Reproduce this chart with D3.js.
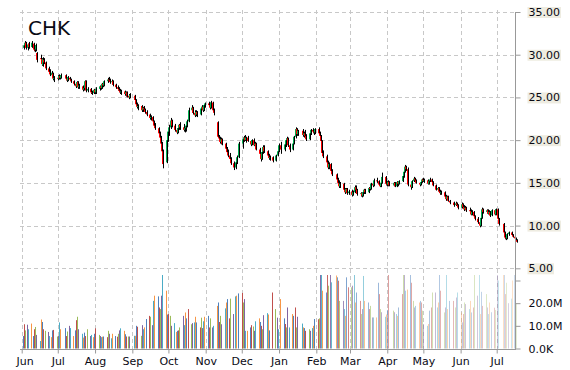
<!DOCTYPE html>
<html>
<head>
<meta charset="utf-8">
<title>CHK</title>
<script src="https://cdn.jsdelivr.net/npm/d3@7"></script>
<style>
    body { margin: 0; background: #fff; }
    #chart-area { width: 570px; height: 370px; }
    text { font-family: "DejaVu Sans", Verdana, sans-serif; }
</style>
</head>
<body>
<div id="chart-area"></div>
<script>

const ticker = "CHK";

// trading days run from firstDay to lastDay, weekends and these market holidays skipped
const firstDay = "2014-06-02";
const lastDay = "2015-07-17";
const holidays = ["2014-07-04", "2014-09-01", "2014-11-27", "2014-12-25", "2015-01-01",
    "2015-01-19", "2015-02-16", "2015-04-03", "2015-05-25", "2015-07-03"];

const openPrices = [
    // Jun
    30.8,31.1,31.4,30.8,31.3,30.9,31.3,30.6,30.6,30.2,29.6,29.5,28.8,29.4,29.1,28.4,28.0,27.6,27.8,27.2,27.3,
    // Jul
    27.2,27.5,27.3,27.6,27.2,27.0,27.3,27.1,26.9,26.6,26.3,26.8,26.2,26.3,25.9,26.1,26.9,25.8,26.0,25.6,25.5,25.9,
    // Aug
    25.6,26.0,26.3,26.1,26.6,26.4,26.9,27.1,27.0,26.8,26.9,26.5,26.2,26.0,25.8,25.6,25.7,25.4,25.6,25.2,25.0,
    // Sep
    25.2,24.7,24.2,23.9,24.0,23.5,23.8,23.6,23.3,23.0,22.6,22.7,22.2,21.7,21.4,20.8,20.3,19.6,18.7,17.4,20.0,
    // Oct
    21.0,21.5,22.3,21.7,21.2,20.9,21.4,21.8,21.5,21.2,21.4,21.7,22.2,23.5,23.8,23.2,22.9,23.3,23.0,23.7,23.9,23.5,24.1,
    // Nov
    24.3,24.1,23.8,24.4,23.5,22.1,20.4,20.2,19.8,20.1,19.6,19.0,18.6,18.2,17.8,17.3,16.8,17.4,18.0,
    // Dec
    19.6,20.1,20.3,20.0,20.3,19.9,19.5,20.0,19.4,19.6,18.9,18.4,17.8,18.6,19.2,18.7,18.2,17.9,18.0,17.6,18.2,18.7,
    // Jan
    19.4,18.9,19.5,20.0,20.2,19.4,18.9,19.6,20.4,21.3,20.7,21.1,20.6,20.8,20.5,20.1,20.8,21.2,21.0,20.9,
    // Feb
    21.3,20.8,20.5,19.9,18.5,18.1,17.4,16.8,17.2,16.4,16.0,15.4,15.0,14.6,14.9,14.2,13.9,14.3,13.8,
    // Mar
    14.0,13.6,13.9,14.5,14.2,13.7,13.8,13.5,13.9,14.2,13.9,14.4,14.3,14.9,14.7,15.3,15.2,14.8,14.6,15.0,15.7,14.9,
    // Apr
    14.8,15.1,14.7,15.0,14.6,15.1,14.9,15.2,15.8,16.3,16.9,16.6,14.8,14.5,15.2,15.5,15.3,15.0,14.8,15.1,15.4,
    // May
    15.2,15.3,14.9,15.2,15.4,15.1,14.7,14.2,14.4,14.0,13.8,13.9,13.4,13.1,13.4,12.9,12.7,12.4,12.6,12.4,
    // Jun
    12.1,12.5,12.2,11.9,12.1,11.8,11.7,11.3,11.6,11.1,10.8,10.4,10.0,10.9,11.9,11.6,11.8,11.4,11.6,11.2,11.8,11.3,
    // Jul
    11.9,10.8,10.2,9.2,8.6,8.5,9.0,9.2,8.9,8.7,8.5,8.3
];

const highPrices = [
    31.3,31.6,31.5,31.3,31.5,31.6,31.4,31.1,31.3,30.3,30.0,29.6,29.7,29.6,29.2,28.6,28.3,28.1,27.9,27.5,27.6,
    27.7,27.6,27.8,27.7,27.3,27.5,27.4,27.2,27.0,26.8,26.9,26.9,26.6,26.4,26.3,27.0,27.0,26.2,26.1,25.8,26.0,26.0,
    26.2,26.4,26.5,26.7,26.8,27.0,27.3,27.4,27.2,27.1,27.0,26.6,26.4,26.2,26.0,25.9,25.8,25.7,25.7,25.4,25.5,
    25.3,24.8,24.4,24.2,24.1,23.9,24.0,23.7,23.5,23.1,22.9,22.8,22.3,22.0,21.5,21.0,20.5,19.8,18.9,20.2,21.4,
    21.8,22.6,22.4,21.9,21.4,21.5,21.9,22.1,21.9,21.6,21.8,22.4,23.8,24.1,23.9,23.5,23.5,23.4,23.9,24.1,24.0,24.2,24.4,
    24.5,24.4,24.6,24.5,23.7,22.2,20.6,20.4,20.3,20.2,19.7,19.2,18.9,18.5,18.0,17.5,17.6,18.2,19.8,
    20.3,20.5,20.6,20.4,20.5,20.0,20.1,20.2,19.8,19.7,19.1,18.6,18.7,19.4,19.4,18.8,18.4,18.2,18.1,18.3,18.9,19.6,
    19.8,19.6,20.2,20.4,20.3,19.6,19.7,20.5,21.5,21.4,21.2,21.3,21.0,21.2,20.7,20.9,21.3,21.4,21.3,21.4,
    21.5,21.0,20.6,20.0,18.8,18.3,17.6,17.4,17.3,16.6,16.1,15.6,15.3,15.1,15.0,14.4,14.4,14.4,14.2,
    14.2,14.1,14.7,14.7,14.3,13.9,13.9,14.0,14.3,14.3,14.5,14.6,15.0,15.1,15.5,15.6,15.3,15.0,15.2,16.2,15.8,15.2,
    15.3,15.2,15.1,15.1,15.2,15.2,15.3,16.0,16.4,17.1,17.0,16.8,15.0,15.3,15.7,15.6,15.4,15.1,15.2,15.5,15.6,
    15.5,15.4,15.3,15.6,15.5,15.2,14.8,14.5,14.5,14.2,14.1,14.0,13.6,13.5,13.5,13.0,12.8,12.8,12.7,12.5,
    12.7,12.6,12.4,12.3,12.2,12.1,11.9,11.8,11.7,11.2,11.0,10.6,11.0,12.1,12.0,11.9,11.9,11.8,11.7,11.9,11.9,12.0,
    12.0,10.9,10.3,9.3,8.9,9.1,9.3,9.3,9.0,8.8,8.6,8.4
];

const lowPrices = [
    30.6,30.9,30.6,30.5,30.7,30.8,30.4,30.3,30.4,29.1,29.2,28.7,28.6,28.9,28.2,27.8,27.5,27.4,27.0,26.8,27.0,
    27.1,27.1,27.2,27.0,26.8,26.9,26.9,26.7,26.4,26.1,26.2,26.0,26.0,25.7,25.8,26.0,25.6,25.6,25.4,25.3,25.4,25.4,
    25.4,25.8,25.9,26.0,26.2,26.3,26.7,26.8,26.6,26.5,26.3,26.0,25.8,25.6,25.4,25.3,25.2,25.1,25.0,24.8,24.9,
    24.5,24.0,23.7,23.5,23.3,23.3,23.4,23.1,22.8,22.4,22.3,22.0,21.5,21.2,20.5,20.0,19.4,18.5,16.7,17.3,19.8,
    20.5,21.3,21.5,21.0,20.7,20.8,21.2,21.2,21.0,20.9,21.0,21.5,22.1,23.2,23.0,22.7,22.8,22.7,22.9,23.5,23.3,23.4,23.8,
    23.9,23.6,23.7,23.3,22.9,20.3,19.9,19.6,19.5,19.4,18.8,18.4,18.0,17.6,17.1,16.5,16.6,17.2,17.9,
    19.0,19.8,19.9,19.7,19.8,19.3,19.4,19.3,19.1,18.8,18.2,17.5,17.7,18.4,18.5,18.0,17.7,17.6,17.4,17.5,18.1,18.6,
    18.4,18.7,19.2,19.6,19.2,18.6,18.8,19.5,20.2,20.5,20.5,20.4,20.3,20.4,19.9,20.0,20.6,20.8,20.6,20.7,
    20.6,20.2,19.7,18.2,17.9,17.2,16.6,16.6,16.2,15.8,15.2,14.8,14.4,14.4,14.0,13.7,13.8,13.6,13.6,
    13.4,13.5,13.8,14.0,13.5,13.4,13.3,13.4,13.7,13.7,13.8,14.1,14.2,14.5,14.6,15.0,14.7,14.5,14.5,14.9,14.7,14.6,
    14.6,14.6,14.6,14.5,14.5,14.6,14.8,15.1,15.6,16.2,16.4,14.6,14.2,14.4,15.1,15.1,14.9,14.6,14.7,15.0,15.1,
    15.0,14.8,14.8,15.1,15.0,14.6,14.1,14.0,13.9,13.6,13.6,13.3,12.9,13.0,12.8,12.5,12.2,12.3,12.2,11.9,
    12.0,12.0,11.7,11.8,11.6,11.6,11.2,11.2,11.0,10.6,10.2,9.8,9.9,10.8,11.4,11.4,11.3,11.2,11.0,11.1,11.2,11.2,
    10.6,10.0,9.0,8.4,8.3,8.4,8.8,8.8,8.6,8.4,8.2,8.0
];

const closePrices = [
    31.1,31.4,30.8,31.2,30.9,31.4,30.6,30.5,31.1,29.4,29.5,28.9,29.5,29.1,28.4,28.0,27.7,27.9,27.2,27.3,27.2,
    27.5,27.3,27.6,27.2,27.0,27.4,27.1,26.9,26.6,26.3,26.8,26.2,26.4,25.9,26.1,26.9,25.8,26.0,25.6,25.5,25.9,25.6,
    26.0,26.3,26.1,26.6,26.4,26.9,27.1,27.0,26.8,26.9,26.5,26.2,26.0,25.8,25.6,25.7,25.4,25.6,25.2,25.0,25.3,
    24.7,24.2,23.9,24.0,23.5,23.8,23.6,23.3,23.0,22.6,22.7,22.2,21.7,21.4,20.8,20.3,19.6,18.7,17.2,20.0,21.0,
    21.5,22.3,21.7,21.2,20.9,21.4,21.8,21.5,21.2,21.4,21.7,22.2,23.5,23.8,23.2,22.9,23.3,23.0,23.7,23.9,23.5,24.1,24.3,
    24.1,23.8,24.4,23.5,23.2,20.4,20.2,19.8,20.1,19.6,19.0,18.6,18.2,17.8,17.3,16.8,17.4,18.0,19.6,
    20.1,20.3,20.0,20.3,19.9,19.5,20.0,19.4,19.6,18.9,18.4,17.8,18.6,19.2,18.7,18.2,17.9,18.0,17.6,18.2,18.7,19.4,
    18.9,19.5,20.0,20.2,19.4,18.9,19.6,20.4,21.3,20.7,21.1,20.6,20.8,20.5,20.1,20.8,21.2,21.0,20.9,21.3,
    20.8,20.5,19.9,18.5,18.1,17.4,16.8,17.2,16.4,16.0,15.4,15.0,14.6,14.9,14.2,13.9,14.3,13.8,14.0,
    13.6,13.9,14.5,14.2,13.7,13.8,13.5,13.9,14.2,13.9,14.4,14.3,14.9,14.7,15.3,15.2,14.8,14.6,15.0,15.7,14.9,14.8,
    15.1,14.7,15.0,14.6,15.1,14.9,15.2,15.8,16.3,16.9,16.6,14.8,14.5,15.2,15.5,15.3,15.0,14.8,15.1,15.4,15.2,
    15.3,14.9,15.2,15.4,15.1,14.7,14.2,14.4,14.0,13.8,13.9,13.4,13.1,13.4,12.9,12.7,12.4,12.6,12.4,12.1,
    12.5,12.2,11.9,12.1,11.8,11.7,11.3,11.6,11.1,10.8,10.4,10.0,10.9,11.9,11.6,11.8,11.4,11.6,11.2,11.8,11.3,11.9,
    10.8,10.2,9.2,8.6,8.5,9.0,9.2,8.9,8.7,8.5,8.3,8.1
];

// volume in millions of shares
const volumes = [
    5.5,10.7,8,10.5,8.5,11,5.5,8.5,9.5,6,3.3,12.8,11.7,8.5,7.8,7.3,5.5,5,8,8.2,5.3,
    5.5,11.5,8.5,9,5.5,7.5,10,9,5.5,8,12.5,14,8.5,6.5,4.8,7,5.5,8.5,5.5,6,5,6.5,
    8.9,6,5.5,5,5.2,5.3,5,7.8,6.5,4.5,6.5,5.5,5.2,6.5,8,8.9,7.8,6.3,5.3,5.3,5.3,
    5.6,5.6,10,9.6,5.6,10.3,8.5,9.3,13,14.4,14,10.3,21,23.3,23,18.1,17.4,23.3,34,25.5,15,
    15.2,14.4,10,11.2,7.3,7.8,8,9.3,14.4,10.3,15.9,13.3,17.4,10.7,11.2,11.5,14,11.5,9.3,13.6,9,12,14,
    14.4,9.3,13.3,9.3,10,18.8,20.3,11.7,14.4,10.7,17.7,20.3,21.8,13.3,22,15.2,23,23.3,24.3,
    24.5,20.3,21.8,7.8,7.8,9.3,10.3,9.7,7.8,12,13.3,11.7,10,8.5,14.7,15.6,15,8,24.7,17.4,13.6,8.5,
    21.8,13.3,10.8,9.3,18.1,9.3,15.2,14.4,18.1,9.3,14,11,9.3,9,7.8,8.5,7.8,9,10,13,
    12.9,13.3,33,33,25.5,24.7,33,27.7,33,29.2,32.2,31.4,29.9,21,21,17.4,14.4,31.4,27,
    27,27.7,33,20.3,24.7,21,15.2,17.4,32,21,20.3,17.4,18.8,13.7,13.7,13.7,29,24,17.4,16,14,15,
    17,33,16.7,16,15.2,14.4,18.1,24,33,33,25.5,26,33,29,21,18.1,18.8,20.3,21,20.3,16.7,
    10.8,10,10.8,16.7,18.1,24.7,24.7,18.1,20.3,33,25.5,15.9,18.1,33,17.4,21,21,18.1,22.5,24.7,
    15.9,11.5,15.2,20.3,19.6,17.4,21,15.9,18.1,33,23.3,33,15.2,25,18.8,24,18.1,15.2,20.3,16,18,17,
    33,30,33,33,24,29,20,22,30,33,25,20
];

const priceTicks = [5, 10, 15, 20, 25, 30, 35];
const volumeTicks = [0, 10, 20, 30];
const volumeColors = ["#4F81BD", "#C0504D", "#9BBB59", "#8064A2", "#4BACC6", "#F79646"];


class CandleChart {

    constructor(parentElement) {
        this.parentElement = parentElement;
        this.initVis();
    }

    initVis() {
        let vis = this;

        vis.width = 570;
        vis.height = 370;
        vis.left = 20;
        vis.right = 515;
        vis.top = 12;
        vis.bottom = 349;

        vis.svg = d3.select("#" + vis.parentElement).append("svg")
            .attr("width", vis.width)
            .attr("height", vis.height);

        // x: one scale for calendar time, months at fixed spacing
        vis.x = d3.scaleUtc()
            .domain([new Date(Date.UTC(2014, 5, 1)), new Date(Date.UTC(2015, 6, 1))])
            .range([21.7, 496.7]);

        vis.yPrice = d3.scaleLinear().domain([5, 35]).range([268.3, 12]);
        vis.yVol = d3.scaleLinear().domain([0, 30]).range([348.5, 280.5]);
        vis.volTop = 275;

        vis.gridGroup = vis.svg.append("g").attr("class", "grid");
        vis.volGroup = vis.svg.append("g").attr("class", "volume");
        vis.candleGroup = vis.svg.append("g").attr("class", "candles");
        vis.axisGroup = vis.svg.append("g").attr("class", "axes");

        vis.svg.append("text")
            .attr("x", 28)
            .attr("y", 35)
            .attr("font-size", 20)
            .attr("fill", "#0a0a14")
            .text(ticker);

        vis.wrangleData();
    }

    wrangleData() {
        let vis = this;

        let fmt = d3.utcFormat("%Y-%m-%d");
        let start = d3.utcParse("%Y-%m-%d")(firstDay);
        let end = d3.utcDay.offset(d3.utcParse("%Y-%m-%d")(lastDay), 1);
        let days = d3.utcDay.range(start, end)
            .filter(d => d.getUTCDay() % 6 !== 0 && !holidays.includes(fmt(d)));

        if (days.length !== closePrices.length) console.log("day count mismatch", days.length, closePrices.length);

        vis.displayData = days.map((d, i) => ({
            date: d,
            open: openPrices[i],
            high: highPrices[i],
            low: lowPrices[i],
            close: closePrices[i],
            volume: volumes[i],
            idx: i
        }));

        vis.fadeDates = [new Date(Date.UTC(2015, 0, 28)), new Date(Date.UTC(2015, 2, 10)), days[days.length - 1]];

        vis.updateVis();
    }

    updateVis() {
        let vis = this;

        let months = d3.utcMonth.range(new Date(Date.UTC(2014, 5, 1)), new Date(Date.UTC(2015, 6, 2)));

        // dashed grid
        vis.gridGroup.selectAll(".hgrid")
            .data(priceTicks)
            .enter()
            .append("line")
            .attr("class", "hgrid")
            .attr("x1", vis.left)
            .attr("x2", vis.right)
            .attr("y1", d => Math.round(vis.yPrice(d)) + 0.5)
            .attr("y2", d => Math.round(vis.yPrice(d)) + 0.5)
            .attr("stroke", "#c8c8c8")
            .attr("stroke-dasharray", "4,3");

        vis.gridGroup.selectAll(".vgrid")
            .data(months)
            .enter()
            .append("line")
            .attr("class", "vgrid")
            .attr("x1", d => Math.round(vis.x(d)) + 0.5)
            .attr("x2", d => Math.round(vis.x(d)) + 0.5)
            .attr("y1", 10)
            .attr("y2", vis.bottom)
            .attr("stroke", "#c8c8c8")
            .attr("stroke-dasharray", "4,3");

        // volume bars, colours cycle, later bars fade out
        let fade = d3.scaleUtc().domain(vis.fadeDates).range([1, 0.6, 0.28]).clamp(true);

        vis.volGroup.selectAll("rect")
            .data(vis.displayData)
            .enter()
            .append("rect")
            .attr("x", d => Math.round(vis.x(d.date)))
            .attr("width", 1)
            .attr("y", d => Math.max(vis.volTop, vis.yVol(d.volume)))
            .attr("height", d => vis.yVol(0) - Math.max(vis.volTop, vis.yVol(d.volume)))
            .attr("fill", d => volumeColors[d.idx % volumeColors.length])
            .attr("fill-opacity", d => fade(d.date));

        // candles: coloured body with a black wick beside it
        let candles = vis.candleGroup.selectAll("g")
            .data(vis.displayData)
            .enter()
            .append("g");

        candles.append("line")
            .attr("x1", d => Math.round(vis.x(d.date)) + 1.5)
            .attr("x2", d => Math.round(vis.x(d.date)) + 1.5)
            .attr("y1", d => vis.yPrice(d.high))
            .attr("y2", d => vis.yPrice(d.low))
            .attr("stroke", "#000")
            .attr("stroke-width", 1);

        candles.append("rect")
            .attr("x", d => Math.round(vis.x(d.date)))
            .attr("width", 1)
            .attr("y", d => vis.yPrice(Math.max(d.open, d.close)))
            .attr("height", d => Math.max(1, Math.abs(vis.yPrice(d.open) - vis.yPrice(d.close))))
            .attr("fill", d => d.close >= d.open ? "#00B050" : "#FF0000");

        // axis lines
        vis.axisGroup.append("line")
            .attr("x1", vis.right + 0.5).attr("x2", vis.right + 0.5)
            .attr("y1", vis.top).attr("y2", vis.bottom + 0.5)
            .attr("stroke", "#999");
        vis.axisGroup.append("line")
            .attr("x1", vis.left).attr("x2", vis.right + 1)
            .attr("y1", vis.bottom + 0.5).attr("y2", vis.bottom + 0.5)
            .attr("stroke", "#999");

        // price axis
        let priceAxis = d3.axisRight(vis.yPrice)
            .tickValues(priceTicks)
            .tickSize(5)
            .tickPadding(8)
            .tickSizeOuter(0)
            .tickFormat(d3.format(".2f"));

        let pa = vis.axisGroup.append("g")
            .attr("class", "price-axis")
            .attr("transform", "translate(" + (vis.right + 0.5) + ",0)")
            .call(priceAxis);
        pa.select(".domain").remove();

        // volume axis
        let volAxis = d3.axisRight(vis.yVol)
            .tickValues(volumeTicks)
            .tickSize(5)
            .tickPadding(8)
            .tickSizeOuter(0)
            .tickFormat(d => d === 0 ? "0.0K" : (d === 30 ? "" : d.toFixed(1) + "M"));

        let va = vis.axisGroup.append("g")
            .attr("class", "vol-axis")
            .attr("transform", "translate(" + (vis.right + 0.5) + ",0)")
            .call(volAxis);
        va.select(".domain").remove();

        vis.axisGroup.selectAll(".price-axis line, .vol-axis line").attr("stroke", "#999");
        vis.axisGroup.selectAll(".price-axis text, .vol-axis text")
            .attr("font-size", 11)
            .attr("font-family", "DejaVu Sans, Verdana, sans-serif")
            .attr("fill", "#0a0a14");

        // beige label backgrounds behind the price labels
        pa.selectAll(".tick").each(function () {
            let t = d3.select(this).select("text");
            let b = t.node().getBBox();
            d3.select(this).insert("rect", "text")
                .attr("x", b.x - 1)
                .attr("y", b.y + 1)
                .attr("width", b.width + 2)
                .attr("height", b.height - 2)
                .attr("fill", "#EEECE1");
        });

        // month axis
        let monthAxis = d3.axisBottom(vis.x)
            .tickValues(months)
            .tickSize(4)
            .tickPadding(4)
            .tickSizeOuter(0)
            .tickFormat(d3.utcFormat("%b"));

        let ma = vis.axisGroup.append("g")
            .attr("class", "month-axis")
            .attr("transform", "translate(0," + (vis.bottom + 0.5) + ")")
            .call(monthAxis);
        ma.select(".domain").remove();
        ma.selectAll("line").attr("stroke", "#999");
        ma.selectAll("text")
            .attr("font-size", 11)
            .attr("font-family", "DejaVu Sans, Verdana, sans-serif")
            .attr("fill", "#0a0a14");

        // keep the first month label inside the chart
        ma.selectAll("text").each(function () {
            let b = this.getBBox();
            let tx = vis.x(d3.select(this.parentNode).datum());
            if (tx + b.x < 15) d3.select(this).attr("dx", 15 - (tx + b.x));
        });
    }
}

new CandleChart("chart-area");

</script>
</body>
</html>
